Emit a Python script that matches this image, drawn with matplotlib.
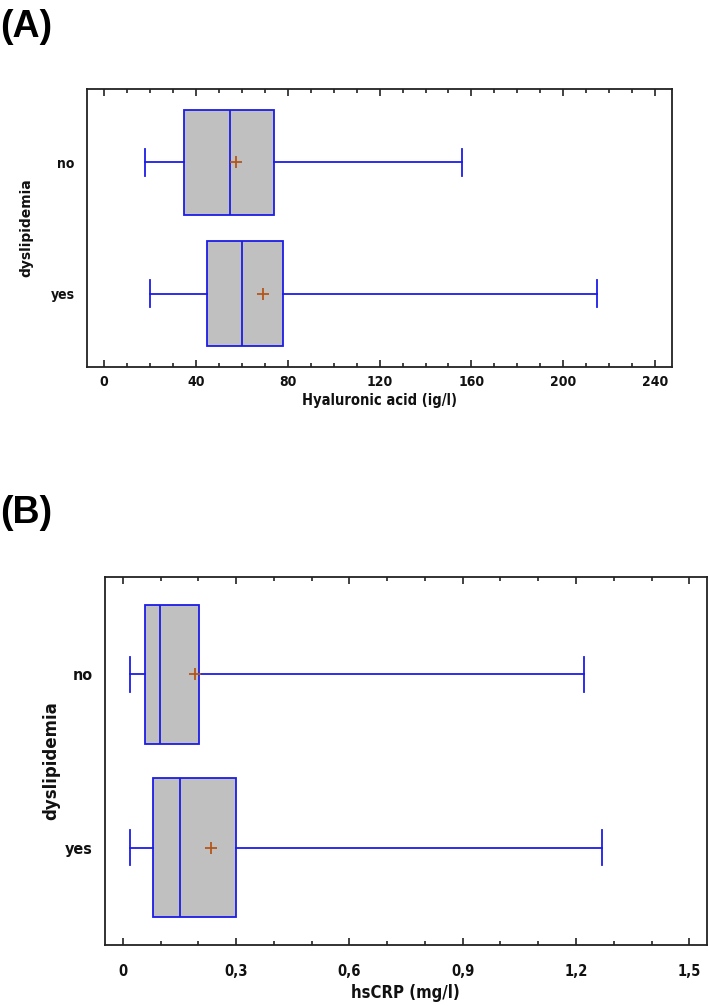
import matplotlib
matplotlib.use("Agg")
import matplotlib.pyplot as plt
from matplotlib.ticker import MultipleLocator

# group labels (bottom to top)
groups = ["yes", "no"]

# panel A: hyaluronic acid (ig/l)
ha_whislo = [19.8, 17.6]
ha_q1 = [45.0, 34.7]
ha_med = [60.1, 54.9]
ha_q3 = [77.9, 74.2]
ha_whishi = [214.8, 155.7]
ha_mean = [69.0, 57.5]
ha_ticks = [0, 40, 80, 120, 160, 200, 240]
ha_ticklabels = ["0", "40", "80", "120", "160", "200", "240"]

# panel B: hsCRP (mg/l)
crp_whislo = [0.02, 0.02]
crp_q1 = [0.079, 0.059]
crp_med = [0.152, 0.099]
crp_q3 = [0.300, 0.201]
crp_whishi = [1.270, 1.221]
crp_mean = [0.234, 0.190]
crp_ticks = [0, 0.3, 0.6, 0.9, 1.2, 1.5]
crp_ticklabels = ["0", "0,3", "0,6", "0,9", "1,2", "1,5"]

BLUE = "#1c1ce8"
GRAY = "#c0c0c0"
MEANC = "#b4561a"
NARROW = dict(family="DejaVu Sans", fontstretch="condensed",
              fontweight="bold", color="#111111")


def stats(lo, q1, med, q3, hi, mean):
    out = []
    for i in range(len(groups)):
        out.append(dict(label=groups[i], whislo=lo[i], q1=q1[i], med=med[i],
                        q3=q3[i], whishi=hi[i], mean=mean[i], fliers=[]))
    return out


def panel(ax, st, xlim, ticks, ticklabels, minor, xlabel, fs_tick, fs_cat,
          fs_xlab, fs_ylab, tickpad):
    ax.bxp(st, positions=[0, 1], widths=0.8, capwidths=0.2,
           orientation="horizontal", patch_artist=True, showmeans=True,
           showfliers=False,
           boxprops=dict(facecolor=GRAY, edgecolor=BLUE, linewidth=1.3),
           whiskerprops=dict(color=BLUE, linewidth=1.3),
           capprops=dict(color=BLUE, linewidth=1.3),
           medianprops=dict(color=BLUE, linewidth=1.3),
           meanprops=dict(marker="+", markeredgecolor=MEANC,
                          markersize=8, markeredgewidth=1.3))
    ax.set_xlim(*xlim)
    ax.set_ylim(-0.56, 1.56)
    ax.set_xticks(ticks)
    ax.set_xticklabels(ticklabels, fontsize=fs_tick, **NARROW)
    ax.xaxis.set_minor_locator(MultipleLocator(minor))
    ax.set_yticks([0, 1])
    ax.set_yticklabels(groups, fontsize=fs_cat, **NARROW)
    ax.tick_params(axis="x", which="both", direction="in", top=True,
                   bottom=True, color="#222222", pad=tickpad)
    ax.tick_params(axis="x", which="major", length=5, width=1.2)
    ax.tick_params(axis="x", which="minor", length=3, width=1.2)
    ax.tick_params(axis="y", length=0, pad=9)
    for s in ax.spines.values():
        s.set_linewidth(1.3)
        s.set_color("#222222")
    ax.set_xlabel(xlabel, fontsize=fs_xlab, labelpad=3, **NARROW)
    ax.set_ylabel("dyslipidemia", fontweight="bold", fontsize=fs_ylab,
                  color="#111111")


fig = plt.figure(figsize=(7.09, 10.06), dpi=100)
axA = fig.add_axes([0.1227, 0.6352, 0.8251, 0.2763])
axB = fig.add_axes([0.1481, 0.0606, 0.8487, 0.3658])

panel(axA, stats(ha_whislo, ha_q1, ha_med, ha_q3, ha_whishi, ha_mean),
      (-7.5, 247.4), ha_ticks, ha_ticklabels, 10, "Hyaluronic acid (ig/l)",
      10, 10, 10.5, 10, 6)
axA.yaxis.set_label_coords(-0.092, 0.5)

panel(axB, stats(crp_whislo, crp_q1, crp_med, crp_q3, crp_whishi, crp_mean),
      (-0.047, 1.546), crp_ticks, crp_ticklabels, 0.1, "hsCRP (mg/l)",
      10.5, 11.5, 12, 12, 14)
axB.yaxis.set_label_coords(-0.074, 0.5)

fig.text(0.0, 1 - 37 / 1006, "(A)", fontsize=27, fontweight="bold",
         family="Liberation Sans", va="baseline", ha="left")
fig.text(0.0, 1 - 523 / 1006, "(B)", fontsize=27, fontweight="bold",
         family="Liberation Sans", va="baseline", ha="left")

fig.savefig("out.png", dpi=100)
